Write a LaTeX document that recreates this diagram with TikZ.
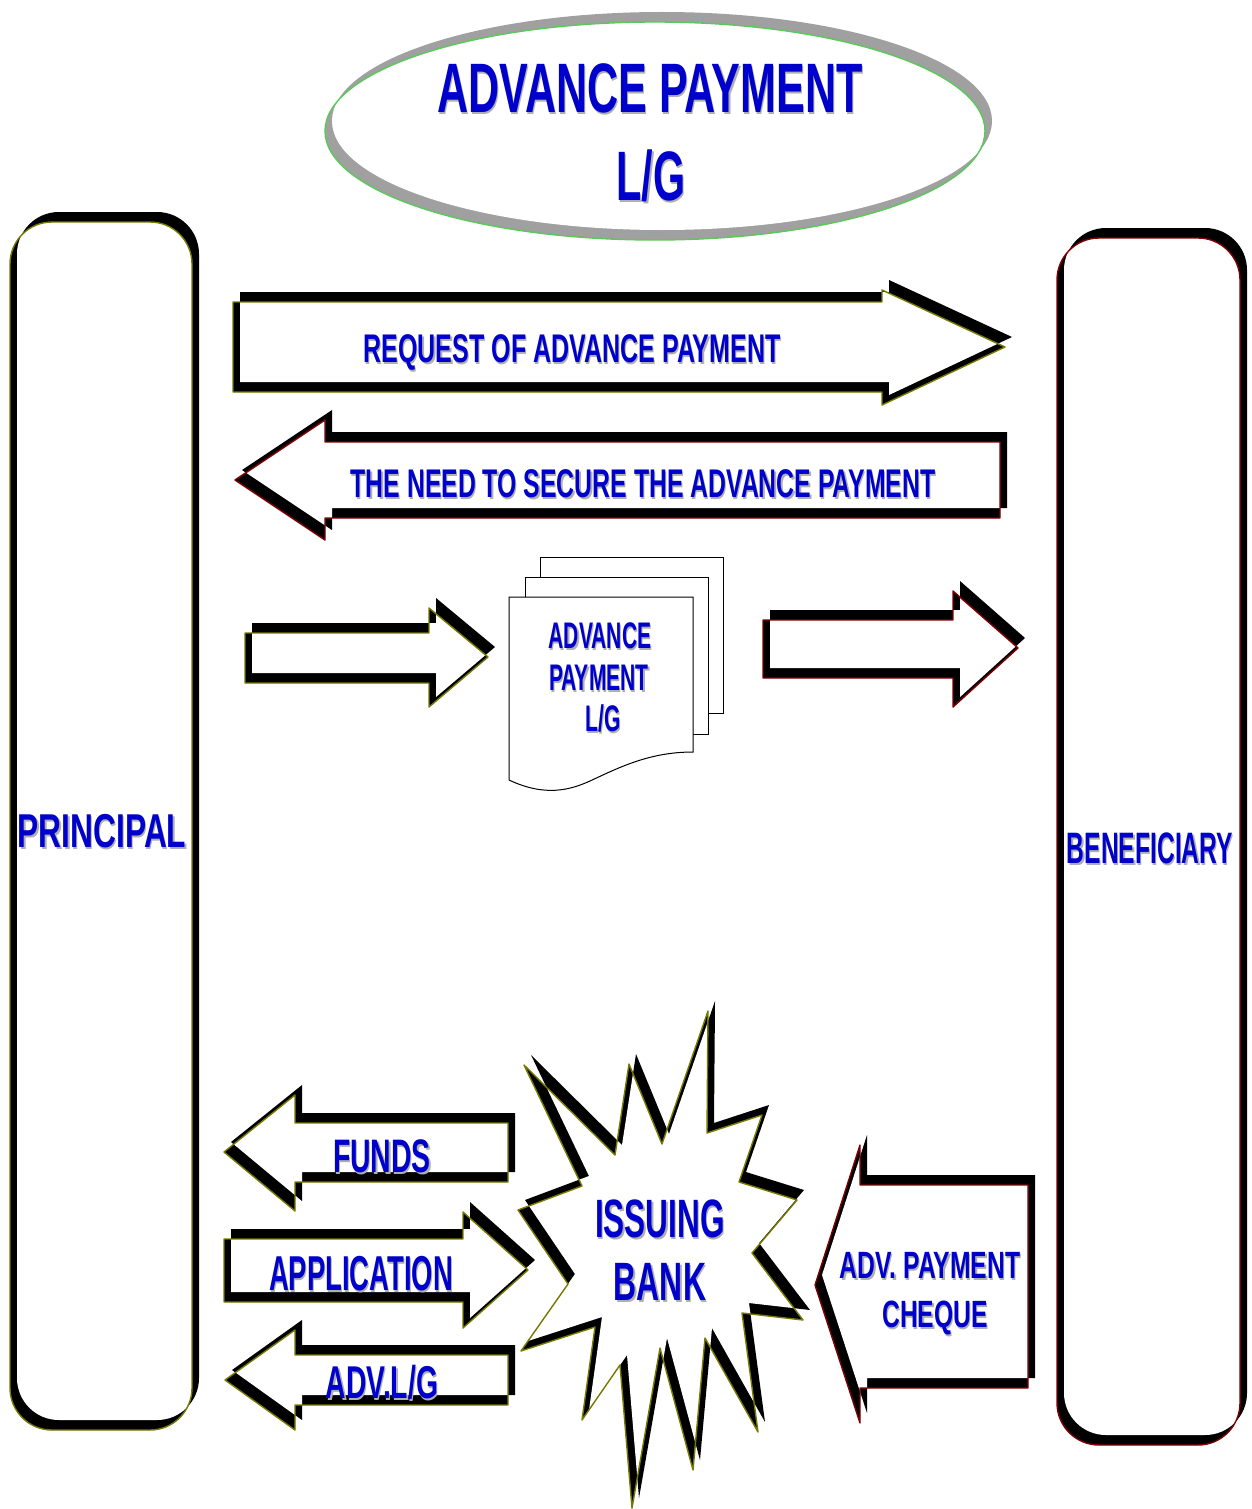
\documentclass[tikz,border=0pt]{standalone}
\usepackage{fontspec}
\setmainfont{Liberation Sans}
\usepackage{graphicx}
\definecolor{txtblue}{RGB}{0,0,204}
\definecolor{txtshadow}{RGB}{175,175,175}
\definecolor{olivel}{RGB}{120,120,0}
\definecolor{redl}{RGB}{128,0,0}
\definecolor{greenl}{RGB}{90,200,90}
\definecolor{grayex}{RGB}{160,160,160}
\newcommand\fsz[1]{\fontsize{#1}{#1}\selectfont\bfseries}
\newcommand\shtxt[2]{\scalebox{#1}[1]{\rlap{\textcolor{txtshadow}{\kern2pt\raisebox{-2pt}{#2}}}#2}}
\newcommand\threed[3]{%
  \fill[#1,shift={(7,-10)}] #3;
  \fill[#1] #3;
  \begin{scope}\clip #3; \fill[white,shift={(7,-10)}] #3;\end{scope}
  \draw[#2,line width=1.4pt,line join=round] #3;
}
\begin{document}
\begin{tikzpicture}[x=1pt,y=-1pt,
  lbl/.style={text=txtblue,inner sep=0pt,anchor=base}]
\useasboundingbox (0,0) rectangle (1251,1509);

% title ellipse
\threed{grayex}{greenl}{(655,131) ellipse [x radius=330pt, y radius=109pt]}
\node[lbl,font=\fsz{70}] (title1) at (650,113) {\shtxt{0.616}{ADVANCE PAYMENT}};
\node[lbl,font=\fsz{70}] (title2) at (651,200) {\shtxt{0.59}{L/G}};

% principal and beneficiary
\threed{black}{olivel}{[rounded corners=42pt] (10,222) rectangle (192,1430)}
\threed{black}{redl}{[rounded corners=42pt] (1057,238) rectangle (1240,1445)}
\node[lbl,font=\fsz{47.5}] (principal) at (102,847) {\shtxt{0.668}{PRINCIPAL}};
\node[lbl,font=\fsz{44}] (beneficiary) at (1150,863) {\shtxt{0.56}{BENEFICIARY}};

% request arrow
\threed{black}{olivel}{(233,302) -- (882,302) -- (882,290) -- (1005,347) -- (882,405) -- (882,392) -- (233,392) -- cycle}
\node[lbl,font=\fsz{40}] (req) at (572,362) {\shtxt{0.626}{REQUEST OF ADVANCE PAYMENT}};

% need arrow
\threed{black}{redl}{(1000,442) -- (325,442) -- (325,420) -- (235,480) -- (325,540) -- (325,518) -- (1000,518) -- cycle}
\node[lbl,font=\fsz{40}] (need) at (643,497) {\shtxt{0.62}{THE NEED TO SECURE THE ADVANCE PAYMENT}};

% small arrows around document
\threed{black}{olivel}{(245,633) -- (429,633) -- (429,608) -- (488,657) -- (429,707) -- (429,683) -- (245,683) -- cycle}
\threed{black}{redl}{(763,620) -- (953,620) -- (953,591) -- (1018,648) -- (953,707) -- (953,678) -- (763,678) -- cycle}

% document stack
\draw[black,fill=white,line width=1pt] (540,557) rectangle (723,713);
\draw[black,fill=white,line width=1pt] (525,577) rectangle (708,734);
\draw[black,fill=white,line width=1pt] (509,780) -- (509,597) -- (693,597) -- (693,752)
  .. controls (650,752) and (620,767) .. (590,781) .. controls (570,790) and (545,797) .. cycle;
\node[lbl,font=\fsz{37}] (doc1) at (600,648) {\shtxt{0.57}{ADVANCE}};
\node[lbl,font=\fsz{37}] (doc2) at (599,690) {\shtxt{0.57}{PAYMENT}};
\node[lbl,font=\fsz{37}] (doc3) at (603,731) {\shtxt{0.57}{L/G}};

% issuing bank star
\threed{black}{olivel}{(708,1011) -- (707,1133) -- (762,1115) -- (739,1182) -- (797,1200) -- (752,1253) -- (803,1320) -- (742,1313) -- (758,1432) -- (705,1338) -- (693,1470) -- (660,1348) -- (632,1508) -- (620,1365) -- (582,1420) -- (595,1327) -- (521,1351) -- (568,1284) -- (518,1210) -- (582,1186) -- (524,1065) -- (615,1155) -- (629,1064) -- (662,1144) -- cycle}
\node[lbl,font=\fsz{54}] (bank1) at (660,1237) {\shtxt{0.585}{ISSUING}};
\node[lbl,font=\fsz{54}] (bank2) at (660,1300) {\shtxt{0.59}{BANK}};

% funds / application / adv l/g
\threed{black}{olivel}{(508,1123) -- (295,1123) -- (295,1095) -- (224,1152) -- (295,1211) -- (295,1182) -- (508,1182) -- cycle}
\node[lbl,font=\fsz{47}] (funds) at (382,1172) {\shtxt{0.605}{FUNDS}};
\threed{black}{olivel}{(224,1239) -- (463,1239) -- (463,1212) -- (528,1270) -- (463,1328) -- (463,1302) -- (224,1302) -- cycle}
\node[lbl,font=\fsz{49}] (app) at (361,1290) {\shtxt{0.56}{APPLICATION}};
\threed{black}{olivel}{(508,1355) -- (295,1355) -- (295,1330) -- (225,1380) -- (295,1430) -- (295,1405) -- (508,1405) -- cycle}
\node[lbl,font=\fsz{46}] (advlg) at (382,1398) {\shtxt{0.616}{ADV.L/G}};

% cheque arrow
\threed{black}{redl}{(1028,1185) -- (860,1185) -- (860,1145) -- (815,1285) -- (860,1423) -- (860,1388) -- (1028,1388) -- cycle}
\node[lbl,font=\fsz{38}] (cheque1) at (930,1278) {\shtxt{0.65}{ADV. PAYMENT}};
\node[lbl,font=\fsz{38}] (cheque2) at (935,1327) {\shtxt{0.65}{CHEQUE}};
\end{tikzpicture}
\end{document}
